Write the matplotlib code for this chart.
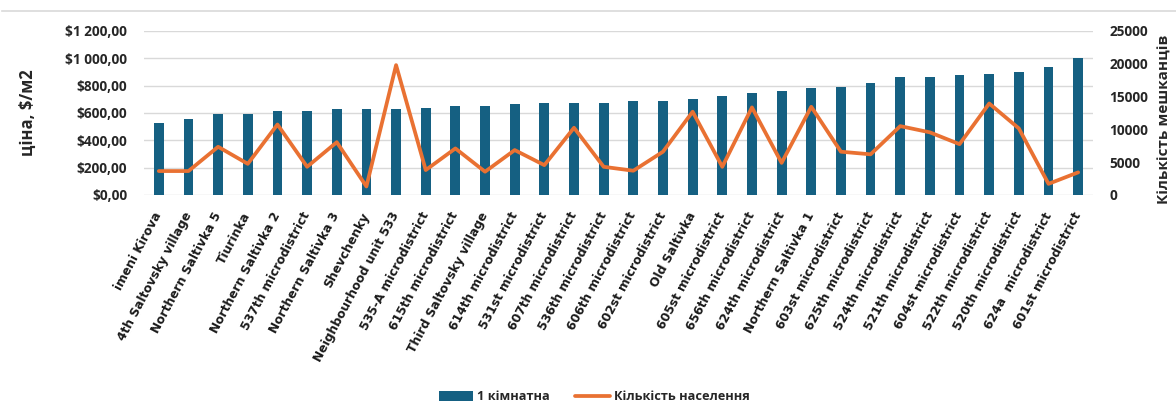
import matplotlib
matplotlib.use("Agg")
import matplotlib.pyplot as plt
from matplotlib.lines import Line2D
from matplotlib.ticker import FixedLocator

plt.rcParams['font.family'] = ['Open Sans', 'DejaVu Sans']

categories = [
    "imeni Kirova", "4th Saltovsky village", "Northern Saltivka 5", "Tiurinka",
    "Northern Saltivka 2", "537th microdistrict", "Northern Saltivka 3", "Shevchenky",
    "Neighbourhood unit 533", "535-A microdistrict", "615th microdistrict",
    "Third Saltovsky village", "614th microdistrict", "531st microdistrict",
    "607th microdistrict", "536th microdistrict", "606th microdistrict",
    "602st microdistrict", "Old Saltivka", "605st microdistrict", "656th microdistrict",
    "624th microdistrict", "Northern Saltivka 1", "603st microdistrict",
    "625th microdistrict", "524th microdistrict", "521th microdistrict",
    "604st microdistrict", "522th microdistrict", "520th microdistrict",
    "624a  microdistrict", "601st microdistrict",
]

price_1room = [
    525, 558, 593, 593, 617, 617, 629, 629, 629, 639, 651, 651, 663, 676, 676, 676,
    688, 688, 700, 722, 744, 759, 780, 793, 817, 861, 861, 876, 885, 900, 934, 1000,
]

population = [
    3650, 3650, 7350, 4750, 10750, 4300, 8050, 1300, 19800, 3800, 7100, 3550,
    6850, 4550, 10250, 4300, 3700, 6600, 12700, 4300, 13350, 4900, 13450, 6600,
    6200, 10500, 9550, 7750, 13950, 10150, 1700, 3450,
]

left_ticks = [0, 200, 400, 600, 800, 1000, 1200]
left_tick_labels = ["$0,00", "$200,00", "$400,00", "$600,00", "$800,00",
                    "$1 000,00", "$1 200,00"]
right_ticks = [0, 5000, 10000, 15000, 20000, 25000]
right_tick_labels = ["0", "5000", "10000", "15000", "20000", "25000"]

bar_color = "#156082"
line_color = "#E97132"
grid_color = "#D9D9D9"
text_color = "#262626"

L, R, T, B = 144, 1093, 31, 195
W, H = 1176, 405
fig = plt.figure(figsize=(W / 100, H / 100), dpi=100)
ax = fig.add_axes([L / W, 1 - B / H, (R - L) / W, (B - T) / H])
ax2 = ax.twinx()

x = list(range(len(categories)))
bars = ax.bar(x, price_1room, width=0.33, color=bar_color, zorder=2,
              label="1 кімнатна")
ln, = ax2.plot(x, population, color=line_color, lw=2.7, solid_joinstyle='round',
               solid_capstyle='round', zorder=3, label="Кількість населення")

ax.set_xlim(-0.5, len(categories) - 0.5)
ax.set_ylim(0, 1200)
ax2.set_ylim(0, 25000)

ax.yaxis.set_major_locator(FixedLocator(left_ticks))
ax.set_yticklabels(left_tick_labels)
ax2.yaxis.set_major_locator(FixedLocator(right_ticks))
ax2.set_yticklabels(right_tick_labels)

ax.set_xticks(x)
ax.set_xticklabels(categories, rotation=62, ha='right', va='center',
                   rotation_mode='anchor', fontsize=8.8, family='DejaVu Sans',
                   fontweight='bold', color="#1a1a1a")
ax.tick_params(axis='x', length=0, pad=13)
ax.tick_params(axis='y', length=0, pad=12, labelsize=9.8, labelcolor=text_color)
ax2.tick_params(axis='y', length=0, pad=12, labelsize=9.8, labelcolor=text_color)
for lab in ax.get_yticklabels() + ax2.get_yticklabels():
    lab.set_fontweight('bold')

ax.grid(axis='y', color=grid_color, lw=1.0, zorder=0)
ax.set_axisbelow(True)
for a in (ax, ax2):
    for s in a.spines.values():
        s.set_visible(False)

ax.set_ylabel("ціна, $/м2", fontsize=12, fontweight='bold', color=text_color,
              rotation=90, va='center', ha='center')
ax.yaxis.set_label_coords((28 - L) / (R - L), 0.5)
ax2.set_ylabel("Кількість мешканців", fontsize=11, fontweight='bold', color=text_color,
               rotation=90, va='center', ha='center')
ax2.yaxis.set_label_coords((1165 - L) / (R - L), (B - 119) / (B - T))

leg = fig.legend(handles=[bars, ln], loc='center', bbox_to_anchor=(594 / W, 1 - 397 / H),
                 ncol=2, frameon=False, fontsize=9.2, handlelength=2.7, handleheight=0.9,
                 columnspacing=2.0, handletextpad=0.3)
for t in leg.get_texts():
    t.set_fontweight('bold')
    t.set_color(text_color)

fig.add_artist(Line2D([0.002, 1.0], [1 - 11 / H, 1 - 11 / H], color=grid_color,
                      lw=1.2, transform=fig.transFigure))

fig.savefig("out.png", dpi=100)
